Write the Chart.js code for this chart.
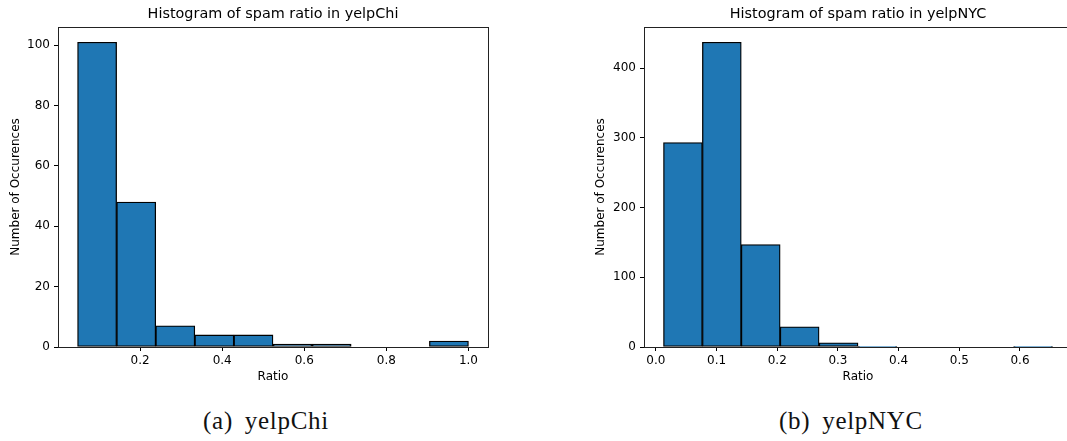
<!DOCTYPE html>
<html>
<head>
<meta charset="utf-8">
<script src="https://cdn.jsdelivr.net/npm/chart.js@4.4.1/dist/chart.umd.min.js"></script>
<style>
  html, body { margin: 0; padding: 0; background: #fff; overflow: hidden; }
  body { width: 1067px; height: 441px; position: relative; }
  .plot { position: absolute; top: 0; }
  .caption {
    position: absolute; top: 407px; width: 300px; text-align: center;
    font-family: 'Liberation Serif', serif; font-size: 25px; color: #111;
    letter-spacing: 0.7px; word-spacing: 5px;
  }
</style>
</head>
<body>
<div class="plot" style="left:0; width:500px; height:400px;"><canvas id="chiChart"></canvas></div>
<div class="plot" style="left:580px; width:500px; height:400px;"><canvas id="nycChart"></canvas></div>
<div class="caption" style="left:116px;">(a) yelpChi</div>
<div class="caption" style="left:701px;">(b) yelpNYC</div>
<script>
'use strict';

/// data
const chiEdges = [0.0476, 0.1429, 0.2381, 0.3333, 0.4286, 0.5238, 0.6190, 0.7143, 0.8095, 0.9048, 1.0];
const chiCounts = [101, 48, 7, 4, 4, 1, 1, 0, 0, 2];
const chiXTicks = [0.2, 0.4, 0.6, 0.8, 1.0];
const chiYTicks = [0, 20, 40, 60, 80, 100];

const nycEdges = [0.0125, 0.0766, 0.1407, 0.2048, 0.2690, 0.3331, 0.3972, 0.4613, 0.5254, 0.5895, 0.6536];
const nycCounts = [293, 437, 147, 29, 6, 1, 0, 0, 0, 1];
const nycXTicks = [0.0, 0.1, 0.2, 0.3, 0.4, 0.5, 0.6];
const nycYTicks = [0, 100, 200, 300, 400];

const barColor = '#1f77b4';
const fontFamily = "'DejaVu Sans', sans-serif";

/// draws the four spines on top of the bars
const spinePlugin = {
  id: 'spines',
  afterDraw(chart) {
    const { ctx, chartArea: a } = chart;
    ctx.save();
    ctx.strokeStyle = '#222';
    ctx.lineWidth = 1;
    ctx.strokeRect(Math.round(a.left) + 0.5, Math.round(a.top) + 0.5,
      Math.round(a.right - a.left), Math.round(a.bottom - a.top));
    ctx.restore();
  },
};

const makeHistogram = function (canvasId, opt) {
  const points = opt.counts.map((c, i) => ({
    x: (opt.edges[i] + opt.edges[i + 1]) / 2,
    y: c,
  }));
  const tickGrid = {
    display: true,
    drawOnChartArea: false,
    drawTicks: true,
    tickLength: 4,
    color: '#000',
    offset: false,
  };
  return new Chart(document.getElementById(canvasId), {
    type: 'bar',
    data: {
      datasets: [
        {
          data: points,
          backgroundColor: barColor,
          borderColor: '#000',
          borderWidth: 1.3,
          borderSkipped: false,
          barPercentage: 1,
          categoryPercentage: 1,
        },
      ],
    },
    options: {
      responsive: true,
      maintainAspectRatio: false,
      animation: false,
      layout: { padding: { left: 0, right: opt.padRight, top: 0, bottom: 0 } },
      plugins: {
        legend: { display: false },
        tooltip: { enabled: false },
        title: {
          display: true,
          text: opt.title,
          fullSize: false,
          color: '#000',
          font: { family: fontFamily, size: 14.4, weight: 'normal' },
          padding: { top: 6, bottom: 3.7 },
        },
      },
      scales: {
        x: {
          type: 'linear',
          offset: false,
          min: opt.xMin,
          max: opt.xMax,
          grid: tickGrid,
          border: { display: false },
          afterBuildTicks: (s) => { s.ticks = opt.xTicks.map((v) => ({ value: v })); },
          afterFit: (s) => { s.height = 53; },
          ticks: {
            color: '#000',
            padding: 3,
            maxRotation: 0,
            autoSkip: false,
            font: { family: fontFamily, size: 12 },
            callback: (v) => Number(v).toFixed(1),
          },
          title: {
            display: true,
            text: 'Ratio',
            color: '#000',
            font: { family: fontFamily, size: 12 },
            padding: { top: 0, bottom: 16 },
          },
        },
        y: {
          min: 0,
          max: opt.yMax,
          grid: tickGrid,
          border: { display: false },
          afterBuildTicks: (s) => { s.ticks = opt.yTicks.map((v) => ({ value: v })); },
          afterFit: (s) => { s.width = opt.yWidth; },
          ticks: {
            color: '#000',
            padding: 4,
            autoSkip: false,
            font: { family: fontFamily, size: 12 },
          },
          title: {
            display: true,
            text: 'Number of Occurences',
            color: '#000',
            font: { family: fontFamily, size: 12 },
            padding: { top: opt.yTitlePad, bottom: 0 },
          },
        },
      },
    },
    plugins: [spinePlugin],
  });
};

makeHistogram('chiChart', {
  title: 'Histogram of spam ratio in yelpChi',
  edges: chiEdges,
  counts: chiCounts,
  xTicks: chiXTicks,
  yTicks: chiYTicks,
  xMin: 0,
  xMax: 1.0476,
  yMax: 106.05,
  yWidth: 58,
  yTitlePad: 9,
  padRight: 12,
});

makeHistogram('nycChart', {
  title: 'Histogram of spam ratio in yelpNYC',
  edges: nycEdges,
  counts: nycCounts,
  xTicks: nycXTicks,
  yTicks: nycYTicks,
  xMin: -0.0196,
  xMax: 0.6857,
  yMax: 458.85,
  yWidth: 64,
  yTitlePad: 13.5,
  padRight: 8,
});
</script>
</body>
</html>
